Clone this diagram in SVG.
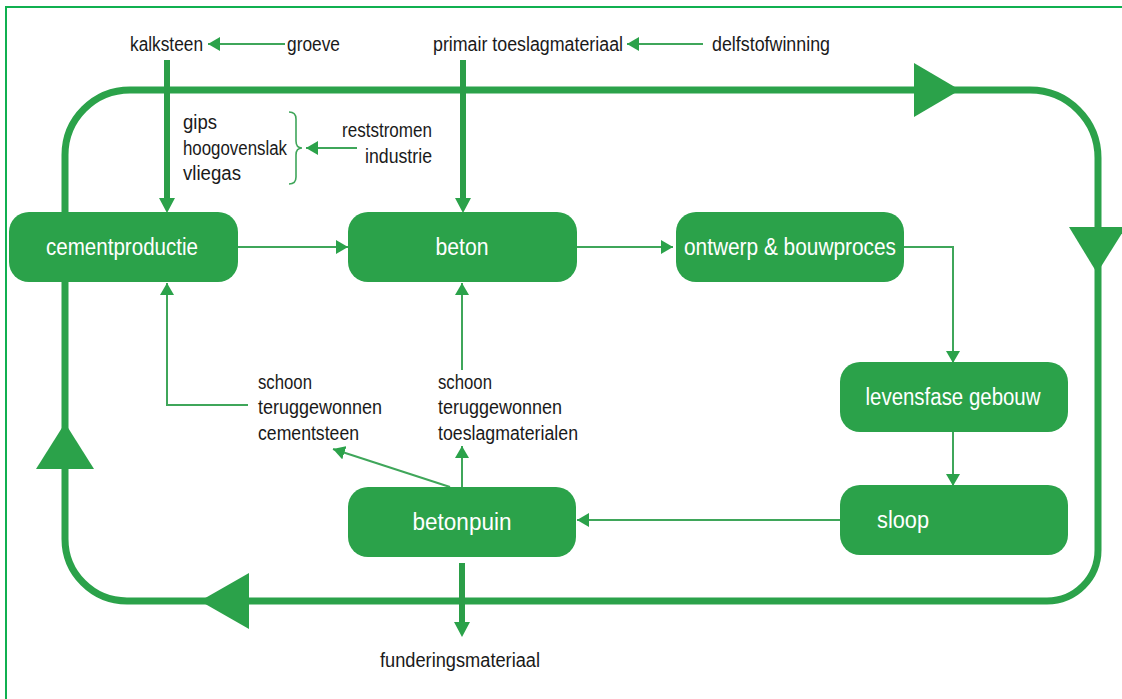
<svg xmlns="http://www.w3.org/2000/svg" width="1122" height="699" viewBox="0 0 1122 699">
<style>
.t{font-family:"Liberation Sans Narrow","Liberation Sans",Arial,sans-serif;font-size:20px;fill:#1a1a1a}
.n{font-family:"Liberation Sans Narrow","Liberation Sans",Arial,sans-serif;font-size:23px;fill:#ffffff;text-anchor:middle}
.box{fill:#2ba24a}
.thin{fill:none;stroke:#3fa65a;stroke-width:2;marker-end:url(#ah)}
.thick{fill:none;stroke:#2b9e48;stroke-width:6}
.loop{fill:none;stroke:#2ba24a;stroke-width:7}
.head{fill:#2ba24a}
</style>
<defs>
<marker id="ah" markerUnits="userSpaceOnUse" markerWidth="14" markerHeight="14" refX="12" refY="7" orient="auto">
<path d="M0,0 L12,7 L0,14 Z" fill="#2ba24a"/>
</marker>
</defs>
<rect x="0" y="0" width="1122" height="699" fill="#ffffff"/>
<rect x="6" y="7" width="1140" height="720" fill="none" stroke="#10b050" stroke-width="2"/>

<g id="connectors">
<path class="loop" d="M130,90 H1030 A68,68 0 0 1 1098,158 V550 A51,51 0 0 1 1047,601 H127 A62,62 0 0 1 65,539 V155 A65,65 0 0 1 130,90 Z"/>
<polygon class="head" points="914,63 960,90 914,117"/>
<polygon class="head" points="1069,227 1126,227 1097,273"/>
<polygon class="head" points="249,573 200,601 249,629"/>
<polygon class="head" points="36,469 65,423 94,469"/>

<path class="thick" d="M167,60 V200"/>
<polygon class="head" points="159,198 175,198 167,213"/>
<path class="thick" d="M463,60 V200"/>
<polygon class="head" points="455,198 471,198 463,213"/>
<path class="thick" d="M462,563 V624"/>
<polygon class="head" points="454,622 470,622 462,637"/>

<path class="thin" d="M285,44 H208"/>
<path class="thin" d="M703,44 H627"/>
<path class="thin" d="M357,148 H306"/>
<path class="thin" d="M238,247 H348"/>
<path class="thin" d="M577,247 H673"/>
<path class="thin" d="M904,247 H953 V363"/>
<path class="thin" d="M953,432 V486"/>
<path class="thin" d="M840,520 H577"/>
<path class="thin" d="M462,487 V446"/>
<path class="thin" d="M462,370 V283"/>
<path class="thin" d="M450,487 L333,449"/>
<path class="thin" d="M248,405 H167 V283"/>
<path d="M289,112 Q296,112 296,119 V141 Q296,148 302,148 Q296,148 296,155 V177 Q296,184 289,184" fill="none" stroke="#3fa65a" stroke-width="1.6"/>
</g>

<g id="node-cementproductie">
<rect class="box" x="9" y="212" width="229" height="70" rx="20"/>
<text class="n" x="122" y="255" textLength="152" lengthAdjust="spacingAndGlyphs">cementproductie</text>
</g>
<g id="node-beton">
<rect class="box" x="348" y="212" width="229" height="70" rx="20"/>
<text class="n" x="462" y="255" textLength="53" lengthAdjust="spacingAndGlyphs">beton</text>
</g>
<g id="node-ontwerp">
<rect class="box" x="676" y="212" width="228" height="70" rx="20"/>
<text class="n" x="790" y="255" textLength="212" lengthAdjust="spacingAndGlyphs">ontwerp &amp; bouwproces</text>
</g>
<g id="node-levensfase">
<rect class="box" x="840" y="362" width="228" height="70" rx="20"/>
<text class="n" x="953" y="405" textLength="175" lengthAdjust="spacingAndGlyphs">levensfase gebouw</text>
</g>
<g id="node-sloop">
<rect class="box" x="840" y="485" width="228" height="70" rx="20"/>
<text class="n" x="903" y="528" textLength="52" lengthAdjust="spacingAndGlyphs">sloop</text>
</g>
<g id="node-betonpuin">
<rect class="box" x="348" y="487" width="228" height="70" rx="20"/>
<text class="n" x="462" y="530" textLength="99" lengthAdjust="spacingAndGlyphs">betonpuin</text>
</g>

<g id="labels">
<text class="t" x="130" y="51" textLength="73" lengthAdjust="spacingAndGlyphs">kalksteen</text>
<text class="t" x="287" y="51" textLength="53" lengthAdjust="spacingAndGlyphs">groeve</text>
<text class="t" x="433" y="51" textLength="190" lengthAdjust="spacingAndGlyphs">primair toeslagmateriaal</text>
<text class="t" x="712" y="51" textLength="118" lengthAdjust="spacingAndGlyphs">delfstofwinning</text>
<text class="t" x="183" y="129" textLength="34" lengthAdjust="spacingAndGlyphs">gips</text>
<text class="t" x="183" y="155" textLength="104" lengthAdjust="spacingAndGlyphs">hoogovenslak</text>
<text class="t" x="183" y="180" textLength="58" lengthAdjust="spacingAndGlyphs">vliegas</text>
<text class="t" x="342" y="137" textLength="90" lengthAdjust="spacingAndGlyphs">reststromen</text>
<text class="t" x="365" y="163" textLength="67" lengthAdjust="spacingAndGlyphs">industrie</text>
<text class="t" x="258" y="389" textLength="54" lengthAdjust="spacingAndGlyphs">schoon</text>
<text class="t" x="258" y="414" textLength="124" lengthAdjust="spacingAndGlyphs">teruggewonnen</text>
<text class="t" x="258" y="440" textLength="101" lengthAdjust="spacingAndGlyphs">cementsteen</text>
<text class="t" x="438" y="389" textLength="54" lengthAdjust="spacingAndGlyphs">schoon</text>
<text class="t" x="438" y="414" textLength="124" lengthAdjust="spacingAndGlyphs">teruggewonnen</text>
<text class="t" x="438" y="440" textLength="140" lengthAdjust="spacingAndGlyphs">toeslagmaterialen</text>
<text class="t" x="380" y="667" textLength="160" lengthAdjust="spacingAndGlyphs">funderingsmateriaal</text>
</g>
</svg>
